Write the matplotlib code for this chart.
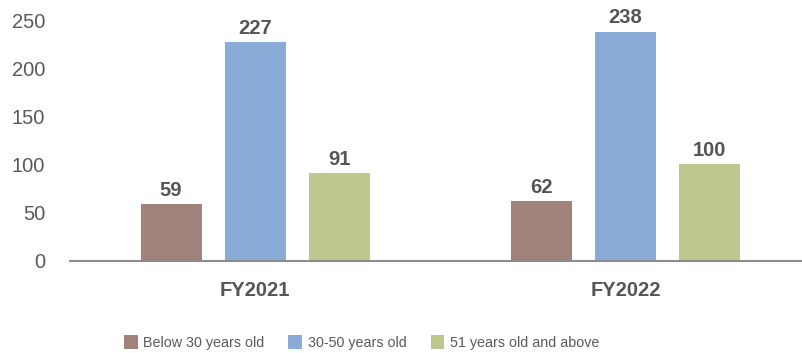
import numpy as np
import matplotlib
matplotlib.use("Agg")
import matplotlib.pyplot as plt

plt.rcParams['font.family'] = ['Liberation Sans', 'DejaVu Sans']

years = ['FY2021', 'FY2022']
groups = ['Below 30 years old', '30-50 years old', '51 years old and above']
values = [
    [59, 62],
    [227, 238],
    [91, 100],
]
colors = ['#A0827A', '#8AABD8', '#BFC78F']

fig = plt.figure(figsize=(8.02, 3.53), dpi=100)
ax = fig.add_axes([0.0873, 0.262, 0.9127, 0.681])

x = np.arange(len(years))
width = 0.165
step = 0.227
for i, (name, vals, c) in enumerate(zip(groups, values, colors)):
    bars = ax.bar(x + (i - 1) * step, vals, width, color=c, label=name, zorder=2)
    ax.bar_label(bars, padding=3, fontsize=14.5, fontweight='bold', color='#555555')

ax.set_xlim(-0.5, 1.477)
ax.set_ylim(0, 250)
ax.set_yticks(np.arange(0, 251, 50))
ax.set_xticks(x)
ax.set_xticklabels(years, fontsize=14.5, fontweight='bold', color='#555555')
ax.tick_params(axis='y', length=0, pad=18, labelsize=14.5, labelcolor='#595959')
ax.tick_params(axis='x', length=0, pad=15)

for s in ['top', 'right', 'left']:
    ax.spines[s].set_visible(False)
ax.spines['bottom'].set_color('#8C8C8C')
ax.spines['bottom'].set_linewidth(1.5)
ax.spines['bottom'].set_zorder(3)

fs = 10.3
fig.legend(loc='center', bbox_to_anchor=(0.451, 0.03), ncol=3, frameon=False,
           fontsize=fs, labelcolor='#595959', handlelength=10 / fs, handleheight=12.2 / fs,
           handletextpad=4.3 / fs, columnspacing=17 / fs, borderaxespad=0, borderpad=0)

fig.savefig('out.png', dpi=100)
